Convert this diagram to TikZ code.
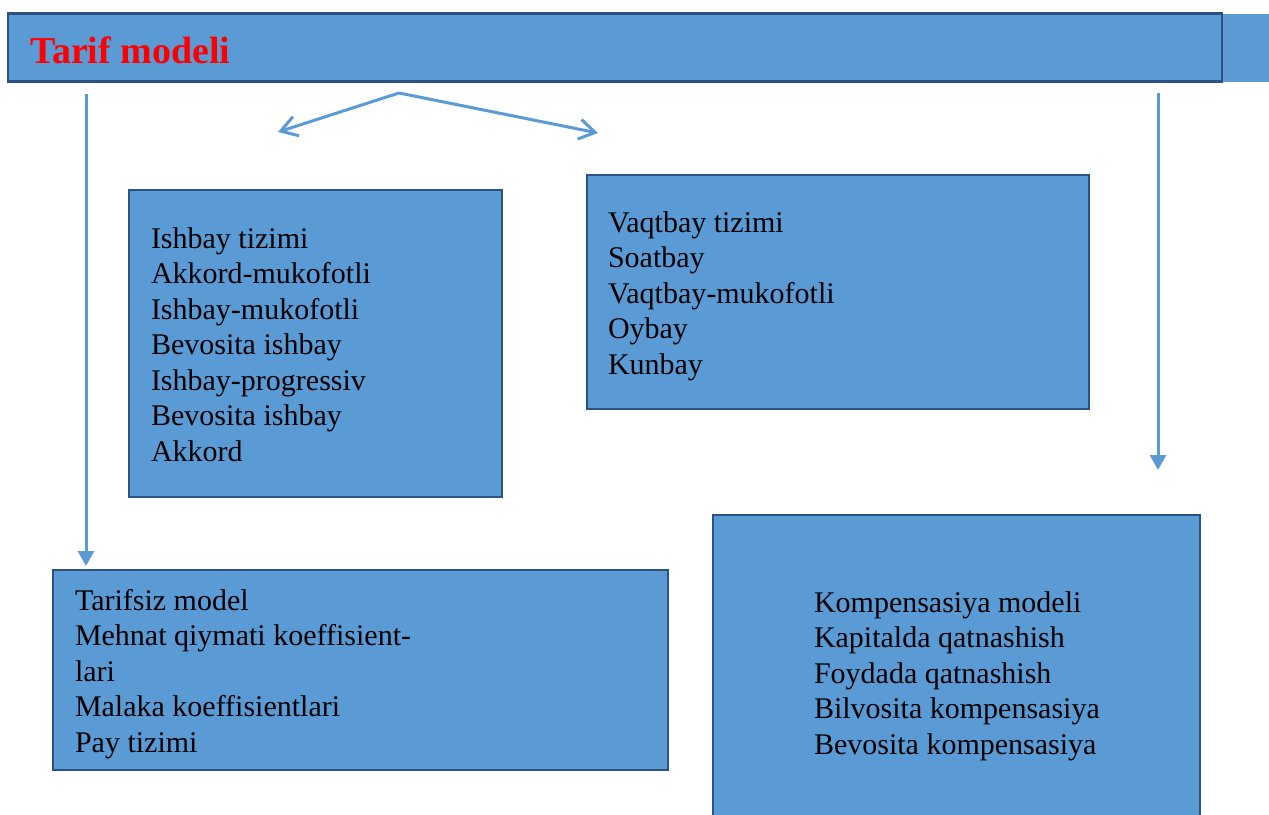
\documentclass[tikz,border=0pt]{standalone}
\usepackage{fontspec}
\setmainfont{Liberation Serif}
\usetikzlibrary{arrows.meta}
\definecolor{boxfill}{HTML}{5B9BD5}
\definecolor{boxline}{HTML}{2C5283}
\definecolor{titlered}{HTML}{FF0000}
\begin{document}
\begin{tikzpicture}[x=1pt,y=-1pt,
  panel/.style={draw=boxline, line width=2.8pt, fill=boxfill, inner sep=0pt, outer sep=0pt},
  % base anchor of a multi-line node sits on its last line
  listtext/.style={anchor=base west, align=left, inner sep=0pt, outer sep=0pt,
    font=\fontsize{30}{35.5}\selectfont},
  flow/.style={draw=boxfill, line width=3pt},
  down/.style={flow, -{Triangle[length=15pt,width=16pt]}},
  split/.style={flow, -{Straight Barb[length=16pt,width=20pt]}}]
\useasboundingbox (0,0) rectangle (1269,814);
\clip (0,0) rectangle (1269,814);

% header bar with its borderless extension to the right
\fill[boxfill] (1222,13.5) rectangle (1269,82);
\node[panel, minimum width=1214pt, minimum height=68pt] (title) at (615,47.5) {};
\node[anchor=base west, inner sep=0pt, text=titlered,
  font=\fontsize{38}{44}\selectfont\bfseries] (titletext) at (30,63) {Tarif modeli};

% content boxes
\node[panel, minimum width=373pt, minimum height=307pt] (piece) at (315.5,343.5) {};
\node[panel, minimum width=502pt, minimum height=234pt] (time) at (838,292) {};
\node[panel, minimum width=615pt, minimum height=200pt] (free) at (360.5,670) {};
\node[panel, minimum width=487pt, minimum height=315pt] (comp) at (956.5,672.5) {};

\node[listtext] (piecetext) at (151,461) {Ishbay tizimi\\Akkord-mukofotli\\Ishbay-mukofotli\\Bevosita ishbay\\Ishbay-progressiv\\Bevosita ishbay\\Akkord};
\node[listtext] (timetext) at (608,374) {Vaqtbay tizimi\\Soatbay\\Vaqtbay-mukofotli\\Oybay\\Kunbay};
\node[listtext] (freetext) at (75,752) {Tarifsiz model\\Mehnat qiymati koeffisient-\\lari\\Malaka koeffisientlari\\Pay tizimi};
\node[listtext] (comptext) at (814,754) {Kompensasiya modeli\\Kapitalda qatnashish\\Foydada qatnashish\\Bilvosita kompensasiya\\Bevosita kompensasiya};

% connectors
\coordinate (lstart) at (86,94);
\coordinate (lend) at (86,566);
\coordinate (rstart) at (1158,93);
\coordinate (rend) at (1158,470);
\coordinate (apex) at (399,93);
\coordinate (vleft) at (278,132);
\coordinate (vright) at (598,133);

\draw[down] (lstart) -- (lend);
\draw[down] (rstart) -- (rend);
\draw[split] (apex) -- (vleft);
\draw[split] (apex) -- (vright);
\end{tikzpicture}
\end{document}
